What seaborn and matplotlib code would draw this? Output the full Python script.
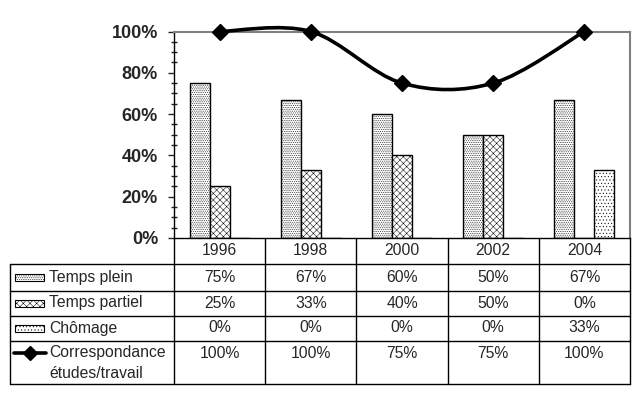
import numpy as np
import pandas as pd
import matplotlib
matplotlib.use("Agg")
import matplotlib.pyplot as plt
from matplotlib.path import Path
from matplotlib.patches import PathPatch, Rectangle
from matplotlib.lines import Line2D
import seaborn as sns

# Données
annees = ["1996", "1998", "2000", "2002", "2004"]
temps_plein = [75, 67, 60, 50, 67]
temps_partiel = [25, 33, 40, 50, 0]
chomage = [0, 0, 0, 0, 33]
correspondance = [100, 100, 75, 75, 100]

series = ["Temps plein", "Temps partiel", "Chômage"]
hachures = [".........", "xxxxx", "....."]

sns.set_style("white")
plt.rcParams["font.family"] = ["Liberation Sans", "DejaVu Sans"]
plt.rcParams["hatch.linewidth"] = 0.35

df = pd.DataFrame({
    "annee": annees * 3,
    "serie": [s for s in series for _ in annees],
    "valeur": temps_plein + temps_partiel + chomage,
})

W, H = 640, 400
fig = plt.figure(figsize=(6.4, 4.0), dpi=100)

def fx(x):
    return x / W

def fy(y):
    return 1 - y / H

x0, x1 = 174, 630
ytop, ybot = 31.5, 238
ax = fig.add_axes([fx(x0), fy(ybot), fx(x1) - fx(x0), (ybot - ytop) / H])

sns.barplot(data=df, x="annee", y="valeur", hue="serie", hue_order=series,
            palette=["white"] * 3, edgecolor="black", linewidth=1,
            width=0.66, ax=ax, legend=False, saturation=1)
for cont, h in zip(ax.containers, hachures):
    for p in cont:
        p.set_hatch(h)

# Courbe lissée (style Excel)
pts = np.array([[i, v] for i, v in enumerate(correspondance)], dtype=float)
ext = np.vstack([pts[0], pts, pts[-1]])
verts = [tuple(pts[0])]
codes = [Path.MOVETO]
for i in range(len(pts) - 1):
    p0, p1, p2, p3 = ext[i], ext[i + 1], ext[i + 2], ext[i + 3]
    c1 = p1 + (p2 - p0) / 6
    c2 = p2 - (p3 - p1) / 6
    verts += [tuple(c1), tuple(c2), tuple(p2)]
    codes += [Path.CURVE4] * 3
ax.add_patch(PathPatch(Path(verts, codes), facecolor="none", edgecolor="black",
                       lw=2.6, clip_on=False, zorder=5))
ax.plot(range(len(annees)), correspondance, linestyle="none", marker="D",
        markersize=8.5, color="black", clip_on=False, zorder=6)

ax.set_xlim(-0.5, len(annees) - 0.5)
ax.set_ylim(0, 100)
ax.set_yticks(range(0, 101, 20))
ax.set_yticks(range(0, 101, 5), minor=True)
ax.set_yticklabels([f"{v}%" for v in range(0, 101, 20)], fontsize=13, fontweight="bold")
ax.tick_params(axis="y", which="major", direction="out", length=4.5, width=1, pad=7, left=True)
ax.tick_params(axis="y", which="minor", direction="inout", length=5, width=1, left=True)
ax.tick_params(axis="x", bottom=False, labelbottom=False)
ax.set_xlabel("")
ax.set_ylabel("")
for s in ["left", "bottom"]:
    ax.spines[s].set_color("black")
    ax.spines[s].set_linewidth(1)
for s in ["top", "right"]:
    ax.spines[s].set_color("#808080")
    ax.spines[s].set_linewidth(1.5)
ax.spines["top"].set_visible(True)
ax.spines["right"].set_visible(True)

# Tableau de données
cw = (x1 - x0) / len(annees)
rows_y = [238, 264, 290.5, 315.5, 340.5, 384]

def hline(y, xa, xb):
    fig.add_artist(Line2D([fx(xa), fx(xb)], [fy(y), fy(y)], color="black", lw=1))

def vline(x, ya, yb):
    fig.add_artist(Line2D([fx(x), fx(x)], [fy(ya), fy(yb)], color="black", lw=1))

for y in rows_y[1:]:
    hline(y, 10, x1)
vline(10, rows_y[1], rows_y[-1])
for i in range(len(annees) + 1):
    vline(x0 + i * cw, rows_y[0], rows_y[-1])

fs = 11.3
for i, a in enumerate(annees):
    cx = x0 + (i + 0.5) * cw
    fig.text(fx(cx), fy(251), a, ha="center", va="center", fontsize=fs)

valeurs = [temps_plein, temps_partiel, chomage]
for r, (nom, vals, h) in enumerate(zip(series, valeurs, hachures)):
    yc = (rows_y[r + 1] + rows_y[r + 2]) / 2
    fig.add_artist(Rectangle((fx(15), fy(yc + 3.5)), fx(29), 7 / H, facecolor="white",
                             edgecolor="black", lw=0.8, hatch=h, transform=fig.transFigure))
    fig.text(fx(49), fy(yc), nom, ha="left", va="center", fontsize=fs)
    for i, v in enumerate(vals):
        fig.text(fx(x0 + (i + 0.5) * cw), fy(yc), f"{v}%", ha="center", va="center", fontsize=fs)

yl = 353
fig.add_artist(Line2D([fx(14), fx(46)], [fy(yl), fy(yl)], color="black", lw=2.6))
fig.add_artist(Line2D([fx(30)], [fy(yl)], color="black", marker="D", markersize=7, linestyle="none"))
fig.text(fx(49), fy(yl), "Correspondance", ha="left", va="center", fontsize=fs)
fig.text(fx(49), fy(374), "études/travail", ha="left", va="center", fontsize=fs)
for i, v in enumerate(correspondance):
    fig.text(fx(x0 + (i + 0.5) * cw), fy(yl), f"{v}%", ha="center", va="center", fontsize=fs)

fig.savefig("out.png", dpi=100, facecolor="white")
